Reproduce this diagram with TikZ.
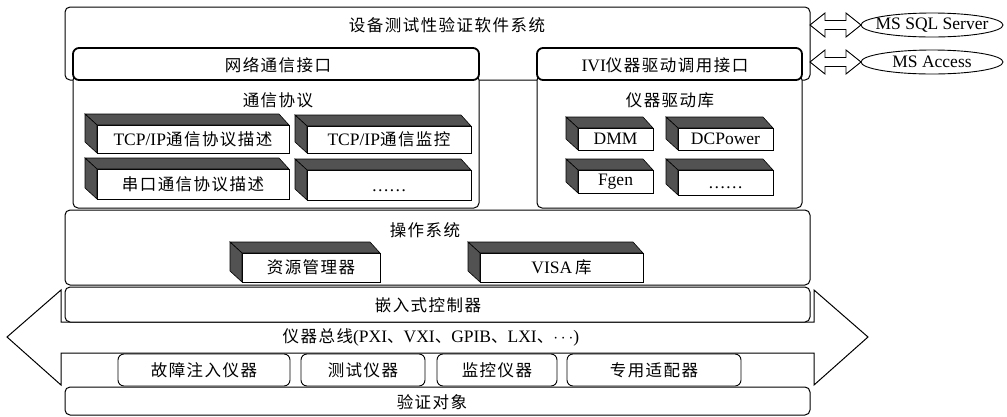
\documentclass[tikz,border=0pt]{standalone}
\usepackage{fontspec}
\setmainfont{Liberation Serif}
\newfontfamily\cjk[LetterSpace=9]{Noto Sans CJK SC}
\usetikzlibrary{calc,shapes.geometric}
\newcommand\zh[1]{{\cjk\fontsize{16.5}{19}\selectfont #1}}
\newcommand\cubebox[6]{%
  \node[face, anchor=north west, minimum width=#4-#2, minimum height=#5-#3] (#1) at (#2,#3) {#6};
  \filldraw[dark] (#1.north west) -- ++(-12,-11) -- ($(#1.north east)+(-10,-11)$) -- (#1.north east) -- cycle;
  \filldraw[dark] (#1.north west) -- ++(-12,-11) -- ($(#1.south west)+(-12,-11)$) -- (#1.south west) -- cycle;
}
\newcommand\hollowarrow[2]{%
  \draw[line width=0.9pt, fill=white] let \p1=(#1), \p2=(#2) in
    (\x1,\y1) -- (\x1+15pt,\y1+12pt) -- (\x1+15pt,\y1+4.5pt) -- (\x2-15pt,\y1+4.5pt)
    -- (\x2-15pt,\y1+12pt) -- (\x2,\y1) -- (\x2-15pt,\y1-12pt) -- (\x2-15pt,\y1-4.5pt)
    -- (\x1+15pt,\y1-4.5pt) -- (\x1+15pt,\y1-12pt) -- cycle;
}
\begin{document}
\begin{tikzpicture}[x=1pt,y=-1pt,
  every node/.style={outer sep=0pt},
  lbl/.style={font=\fontsize{17.5}{20}\selectfont, inner sep=0pt},
  frame/.style={draw, line width=1pt, rounded corners=5pt, fill=white, inner sep=0pt},
  hdr/.style={draw, line width=1.8pt, rounded corners=6pt, fill=white, inner sep=0pt},
  face/.style={draw, line width=0.8pt, fill=white, inner sep=0pt, font=\fontsize{17.5}{20}\selectfont},
  dark/.style={fill=black!68, draw=black, line width=0.6pt},
  inst/.style={draw, line width=0.9pt, rounded corners=6pt, fill=white, inner sep=0pt, font=\fontsize{17.5}{20}\selectfont},
  dbring/.style={draw, line width=0.9pt, fill=white},
]
\useasboundingbox (0,0) rectangle (1007,416);

% software system
\node[frame, anchor=north west, minimum width=745, minimum height=73] (sys) at (65,7) {};
\node[lbl] (systxt) at (447,25) {\zh{设备测试性验证软件系统}};

% lower parts of interfaces
\node[frame, anchor=north west, minimum width=406, minimum height=133] (netlow) at (73,75) {};
\node[frame, anchor=north west, minimum width=265, minimum height=133] (ivilow) at (537,75) {};
\node[hdr, anchor=north west, minimum width=406, minimum height=32] (net) at (73,48) {};
\node[hdr, anchor=north west, minimum width=265, minimum height=32] (ivi) at (537,48) {};
\node[lbl] (nettxt) at (278,65) {\zh{网络通信接口}};
\node[lbl] (ivitxt) at (665,65) {IVI\zh{仪器驱动调用接口}};
\node[lbl] (prot) at (278,100) {\zh{通信协议}};
\node[lbl] (drv) at (670,100) {\zh{仪器驱动库}};

\cubebox{c1}{97}{125}{289}{153}{TCP/IP\zh{通信协议描述}}
\cubebox{c2}{307}{126}{471}{153}{TCP/IP\zh{通信监控}}
\cubebox{c3}{97}{169}{289}{199}{\zh{串口通信协议描述}}
\cubebox{c4}{307}{170}{471}{200}{\vphantom{\zh{测}}\ldots\ldots}
\cubebox{d1}{578}{128}{653}{150}{DMM}
\cubebox{d2}{678}{128}{773}{150}{DCPower}
\cubebox{d3}{578}{170}{653}{193}{Fgen}
\cubebox{d4}{678}{170}{773}{195}{\vphantom{\zh{测}}\ldots\ldots}

% databases
\coordinate (sqlc) at (932,25);
\coordinate (accc) at (932,62);
\draw[dbring] (sqlc) ellipse (71 and 12);
\draw[dbring] (accc) ellipse (71 and 12);
\node[lbl] (sql) at (sqlc) {MS SQL Server};
\node[lbl] (acc) at (accc) {MS Access};
\coordinate (sqlw) at ($(sqlc)+(-71,0)$);
\coordinate (accw) at ($(accc)+(-71,0)$);
\coordinate (s1) at (sys.east |- sqlc);
\coordinate (s2) at (sys.east |- accc);
\hollowarrow{s1}{sqlw}
\hollowarrow{s2}{accw}

% operating system
\node[frame, anchor=north west, minimum width=745, minimum height=75] (os) at (65,210) {};
\node[lbl] (ostxt) at (425,230) {\zh{操作系统}};
\cubebox{o1}{242}{253}{380}{282}{\zh{资源管理器}}
\cubebox{o2}{480}{253}{643}{282}{VISA\,\zh{库}}

% bus arrow
\draw[line width=1pt, fill=white] (7,337) -- (61,290) -- (61,322) -- (814,322) -- (814,290)
  -- (868,337) -- (814,385) -- (814,353) -- (61,353) -- (61,385) -- cycle;
\node[frame, anchor=north west, minimum width=745, minimum height=35] (emb) at (65,287) {};
\node[lbl] (embtxt) at (428,305) {\zh{嵌入式控制器}};
\node[lbl] (bus) at (431,337) {\zh{仪器总线}(PXI\zh{、}VXI\zh{、}GPIB\zh{、}LXI\zh{、}$\cdots$)};

% instruments
\node[inst, anchor=north west, minimum width=172, minimum height=32] (i1) at (118,354) {\zh{故障注入仪器}};
\node[inst, anchor=north west, minimum width=124, minimum height=32] (i2) at (301,354) {\zh{测试仪器}};
\node[inst, anchor=north west, minimum width=120, minimum height=32] (i3) at (437,354) {\zh{监控仪器}};
\node[inst, anchor=north west, minimum width=174, minimum height=32] (i4) at (567,354) {\zh{专用适配器}};

% verification object
\node[frame, anchor=north west, minimum width=745, minimum height=28] (ver) at (65,387) {};
\node[lbl] (vertxt) at (432,402) {\zh{验证对象}};
\end{tikzpicture}
\end{document}
